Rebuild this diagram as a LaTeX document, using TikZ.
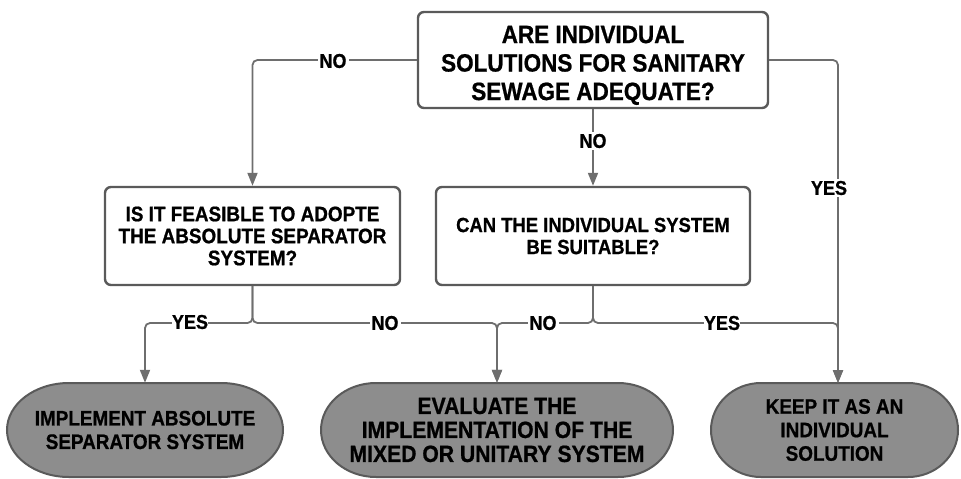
\documentclass[tikz,border=0pt]{standalone}
\usepackage{fontspec}
\setmainfont{Liberation Sans}[FakeStretch=0.9, BoldFeatures={FakeBold=0.8}]
\usetikzlibrary{arrows.meta}
\definecolor{linegray}{RGB}{110,110,110}
\definecolor{boxgray}{RGB}{90,90,90}
\definecolor{termfill}{RGB}{141,141,141}
\tikzset{
  question/.style={draw=boxgray, line width=2.4pt, rounded corners=6pt, fill=white,
    align=center, font=\bfseries, inner sep=0pt},
  terminal/.style={draw=boxgray, line width=2pt, fill=termfill},
  termtext/.style={align=center, inner sep=0pt, font=\fontsize{21}{23.5}\selectfont\bfseries},
  conn/.style={draw=linegray, line width=1.8pt, rounded corners=5pt},
  arr/.style={-{Triangle[length=13pt,width=10pt]}},
  lbl/.style={fill=white, inner sep=2pt, font=\fontsize{20}{20}\selectfont\bfseries},
}
\begin{document}
\begin{tikzpicture}[x=1pt, y=-1pt]
\useasboundingbox (0,0) rectangle (961,479);

% decision boxes
\node[question, minimum width=350pt, minimum height=96pt,
      font=\fontsize{25}{28.5}\selectfont\bfseries] (top) at (593,60)
  {\rule{0pt}{28pt}ARE INDIVIDUAL\\SOLUTIONS FOR SANITARY\\SEWAGE ADEQUATE?};
\node[question, minimum width=295pt, minimum height=98pt,
      font=\fontsize{21}{22}\selectfont\bfseries] (left) at (252.5,236)
  {IS IT FEASIBLE TO ADOPTE\\THE ABSOLUTE SEPARATOR\\SYSTEM?};
\node[question, minimum width=314pt, minimum height=98pt,
      font=\fontsize{20.5}{22}\selectfont\bfseries] (mid) at (593,236)
  {CAN THE INDIVIDUAL SYSTEM\\BE SUITABLE?};

% terminal outlines (stadiums with elliptic ends)
\newcommand\stadium[5]{% cx, cy, half width, half height, end radius
  \path[terminal] (#1-#3+#5,#2-#4) -- (#1+#3-#5,#2-#4)
    arc[start angle=90, end angle=-90, x radius=#5pt, y radius=#4pt]
    -- (#1-#3+#5,#2+#4)
    arc[start angle=270, end angle=90, x radius=#5pt, y radius=#4pt] -- cycle;}
\stadium{145}{430}{138}{47}{62}
\stadium{497}{430}{176}{47}{55}
\stadium{834.5}{430}{123.5}{47}{50}

\node[termtext, minimum width=276pt, minimum height=94pt] (t1) at (145,430)
  {IMPLEMENT ABSOLUTE\\SEPARATOR SYSTEM};
\node[termtext, minimum width=352pt, minimum height=94pt,
      font=\fontsize{23.5}{24}\selectfont\bfseries] (t2) at (497,430)
  {EVALUATE THE\\IMPLEMENTATION OF THE\\MIXED OR UNITARY SYSTEM};
\node[termtext, minimum width=247pt, minimum height=94pt] (t3) at (834.5,430)
  {KEEP IT AS AN\\INDIVIDUAL\\SOLUTION};

\coordinate (t3in) at (838,383);
\coordinate (by) at (0,323);

% connectors
\draw[conn, arr] (top.west) -| (left.north);
\draw[conn, arr] (top.south) -- (mid.north);
\draw[conn, arr] (top.east) -| (t3in);
\draw[conn, arr] (left.south) |- (t1.north |- by) -- (t1.north);
\draw[conn, arr] (left.south) |- (t2.north |- by) -- (t2.north);
\draw[conn, arr] (mid.south) |- (t2.north |- by) -- (t2.north);
\draw[conn, arr] (mid.south) |- (t3in |- by) -- (t3in);

% branch labels
\node[lbl] (l1) at (333,61) {NO};
\node[lbl] (l2) at (593,141) {NO};
\node[lbl] (l3) at (829,188) {YES};
\node[lbl, inner xsep=0pt] (l4) at (190,322) {YES};
\node[lbl] (l5) at (385,323) {NO};
\node[lbl] (l6) at (543,323) {NO};
\node[lbl, inner xsep=0pt] (l7) at (722,323) {YES};
\end{tikzpicture}
\end{document}
